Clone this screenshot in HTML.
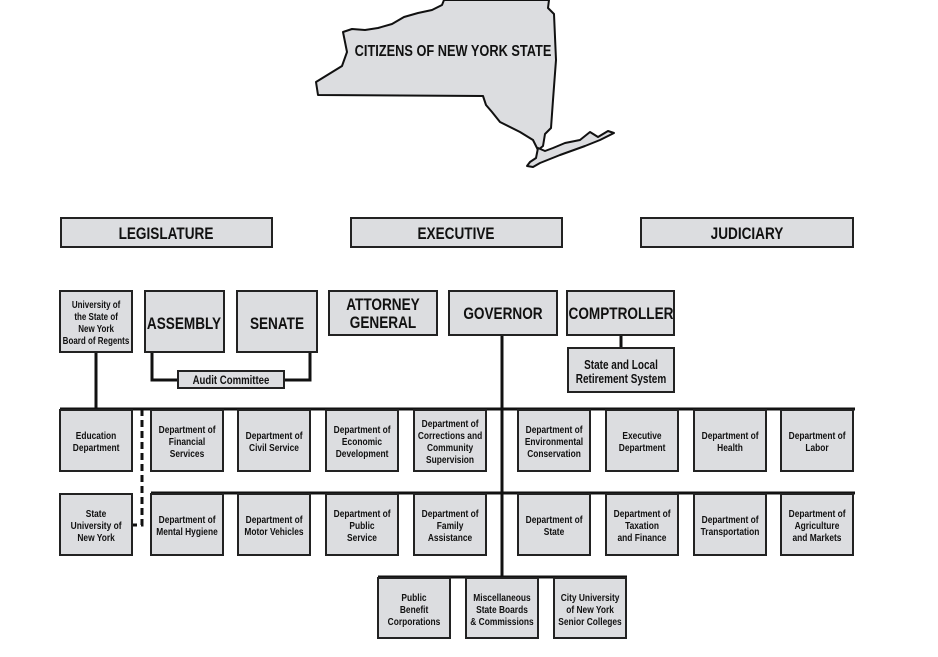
<!DOCTYPE html>
<html><head><meta charset="utf-8"><style>
body{margin:0;background:#fff;}
svg text{font-family:"Liberation Sans",sans-serif;font-weight:bold;fill:#111;text-anchor:middle;transform:scaleX(0.8);transform-box:fill-box;transform-origin:center;}
</style></head><body>
<svg width="938" height="652" viewBox="0 0 938 652" xmlns="http://www.w3.org/2000/svg">
<g fill="#dcdde0" stroke="#111" stroke-width="2" stroke-linejoin="round">
<path d="M316,82 L342,66 L347,52 L343,32 L352,29 L365,30 L378,28 L392,24 L404,17 L418,13 L432,10 L442,5 L444,0 L549,0 L548,8 L554,14 L556,60 L553,100 L551,128 L545,134 L543,146 L538,150 L533,140 L520,132 L500,122 L492,112 L486,105 L483,96 L318,95 Z"/>
<path d="M538,148 L536,158 L530,162 L527,166 L533,167 L540,163 L560,155 L585,146 L600,140 L614,133 L608,131 L598,137 L590,132 L580,140 L565,143 L553,148 L545,151 Z"/>
</g>
<text x="453" y="56" font-size="16">CITIZENS OF NEW YORK STATE</text>
<g fill="#dcdde0" stroke="#222" stroke-width="2">
<rect x="61" y="218" width="211" height="29"/>
<rect x="351" y="218" width="211" height="29"/>
<rect x="641" y="218" width="212" height="29"/>
</g>
<g font-size="17">
<text x="166" y="239">LEGISLATURE</text>
<text x="456" y="239">EXECUTIVE</text>
<text x="747" y="239">JUDICIARY</text>
</g>
<g stroke="#111" stroke-width="3" fill="none">
<line x1="96" y1="352" x2="96" y2="409"/>
<polyline points="152,352 152,380 178,380"/>
<polyline points="310,352 310,380 284,380"/>
<line x1="621" y1="335" x2="621" y2="348"/>
<line x1="502" y1="335" x2="502" y2="577"/>
<line x1="60" y1="409" x2="855" y2="409"/>
<line x1="151" y1="493" x2="855" y2="493"/>
<line x1="378" y1="577" x2="627" y2="577"/>
<polyline points="142,409 142,525 132,525" stroke-dasharray="7,4"/>
</g>
<g fill="#dcdde0" stroke="#222" stroke-width="2">
<rect x="60" y="291" width="72" height="61"/>
<rect x="145" y="291" width="79" height="61"/>
<rect x="237" y="291" width="80" height="61"/>
<rect x="329" y="291" width="108" height="44"/>
<rect x="449" y="291" width="108" height="44"/>
<rect x="567" y="291" width="107" height="44"/>
<rect x="568" y="348" width="106" height="44"/>
<rect x="178" y="371" width="106" height="17"/>
</g>
<g font-size="10">
<text x="96" y="308">University of</text><text x="96" y="320">the State of</text><text x="96" y="332">New York</text><text x="96" y="344">Board of Regents</text>
<text x="231" y="384" font-size="12">Audit Committee</text>
<text x="621" y="369" font-size="12.5">State and Local</text><text x="621" y="383" font-size="12.5">Retirement System</text>
</g>
<g font-size="17">
<text x="184" y="329">ASSEMBLY</text>
<text x="277" y="329">SENATE</text>
<text x="383" y="310">ATTORNEY</text><text x="383" y="328">GENERAL</text>
<text x="503" y="319">GOVERNOR</text>
<text x="621" y="319">COMPTROLLER</text>
</g>
<g fill="#dcdde0" stroke="#222" stroke-width="2">
<rect x="60" y="410" width="72" height="61"/><rect x="151" y="410" width="72" height="61"/><rect x="238" y="410" width="72" height="61"/><rect x="326" y="410" width="72" height="61"/><rect x="414" y="410" width="72" height="61"/><rect x="518" y="410" width="72" height="61"/><rect x="606" y="410" width="72" height="61"/><rect x="694" y="410" width="72" height="61"/><rect x="781" y="410" width="72" height="61"/>
<rect x="60" y="494" width="72" height="61"/><rect x="151" y="494" width="72" height="61"/><rect x="238" y="494" width="72" height="61"/><rect x="326" y="494" width="72" height="61"/><rect x="414" y="494" width="72" height="61"/><rect x="518" y="494" width="72" height="61"/><rect x="606" y="494" width="72" height="61"/><rect x="694" y="494" width="72" height="61"/><rect x="781" y="494" width="72" height="61"/>
<rect x="378" y="578" width="72" height="60"/><rect x="466" y="578" width="72" height="60"/><rect x="554" y="578" width="72" height="60"/>
</g>
<g font-size="10.5">
<text x="96" y="439">Education</text><text x="96" y="451">Department</text>
<text x="187" y="433">Department of</text><text x="187" y="445">Financial</text><text x="187" y="457">Services</text>
<text x="274" y="439">Department of</text><text x="274" y="451">Civil Service</text>
<text x="362" y="433">Department of</text><text x="362" y="445">Economic</text><text x="362" y="457">Development</text>
<text x="450" y="427">Department of</text><text x="450" y="439">Corrections and</text><text x="450" y="451">Community</text><text x="450" y="463">Supervision</text>
<text x="554" y="433">Department of</text><text x="554" y="445">Environmental</text><text x="554" y="457">Conservation</text>
<text x="642" y="439">Executive</text><text x="642" y="451">Department</text>
<text x="730" y="439">Department of</text><text x="730" y="451">Health</text>
<text x="817" y="439">Department of</text><text x="817" y="451">Labor</text>
<text x="96" y="517">State</text><text x="96" y="529">University of</text><text x="96" y="541">New York</text>
<text x="187" y="523">Department of</text><text x="187" y="535">Mental Hygiene</text>
<text x="274" y="523">Department of</text><text x="274" y="535">Motor Vehicles</text>
<text x="362" y="517">Department of</text><text x="362" y="529">Public</text><text x="362" y="541">Service</text>
<text x="450" y="517">Department of</text><text x="450" y="529">Family</text><text x="450" y="541">Assistance</text>
<text x="554" y="523">Department of</text><text x="554" y="535">State</text>
<text x="642" y="517">Department of</text><text x="642" y="529">Taxation</text><text x="642" y="541">and Finance</text>
<text x="730" y="523">Department of</text><text x="730" y="535">Transportation</text>
<text x="817" y="517">Department of</text><text x="817" y="529">Agriculture</text><text x="817" y="541">and Markets</text>
<text x="414" y="601">Public</text><text x="414" y="613">Benefit</text><text x="414" y="625">Corporations</text>
<text x="502" y="601">Miscellaneous</text><text x="502" y="613">State Boards</text><text x="502" y="625">&amp; Commissions</text>
<text x="590" y="601">City University</text><text x="590" y="613">of New York</text><text x="590" y="625">Senior Colleges</text>
</g>
</svg>
</body></html>
